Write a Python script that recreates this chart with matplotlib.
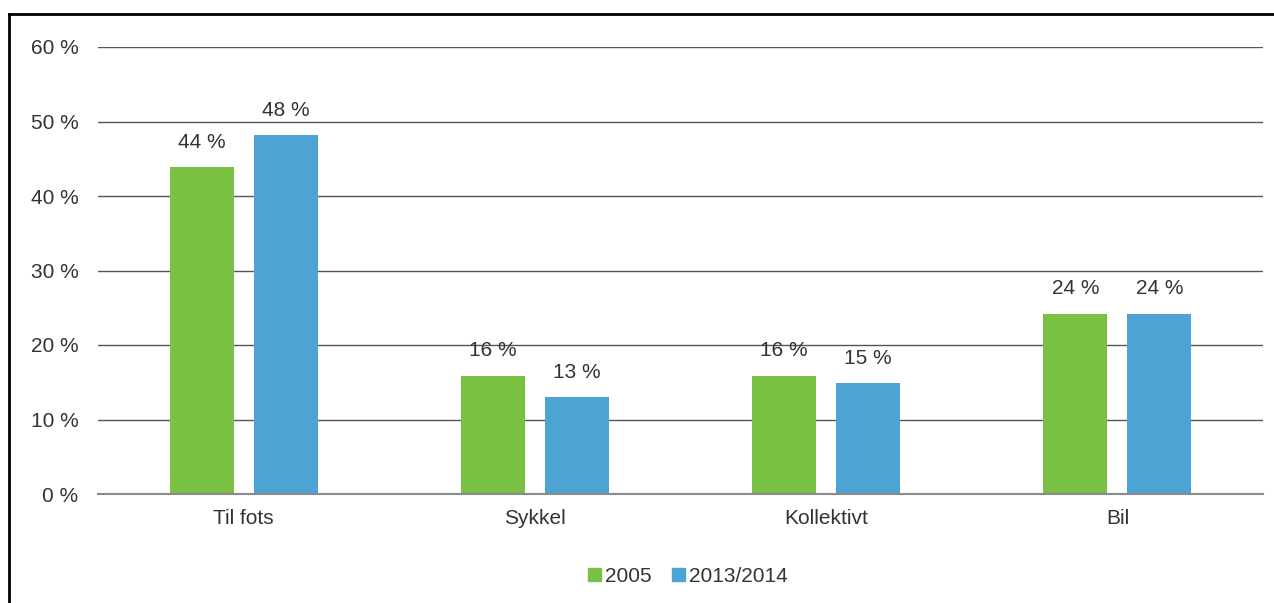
import numpy as np
import matplotlib.pyplot as plt
from matplotlib.lines import Line2D
from matplotlib.patches import Patch

# ---------------------------------------------------------------
# Data
# ---------------------------------------------------------------
categories = ['Til fots', 'Sykkel', 'Kollektivt', 'Bil']
series_names = ['2005', '2013/2014']
values_2005 = [43.9, 15.9, 15.9, 24.2]
values_2014 = [48.2, 13.0, 14.9, 24.2]
labels_2005 = ['44 %', '16 %', '16 %', '24 %']
labels_2014 = ['48 %', '13 %', '15 %', '24 %']
y_ticks = [0, 10, 20, 30, 40, 50, 60]

green = '#7AC143'
blue = '#4CA3D4'
text_col = '#333333'

plt.rcParams['font.family'] = ['Liberation Sans', 'DejaVu Sans']

fig = plt.figure(figsize=(12.74, 6.03), dpi=100)
ax = fig.add_axes([98 / 1274, 1 - 494 / 603, 1165 / 1274, 447 / 603])

x = np.arange(len(categories))
w = 0.22
off = 0.144
b1 = ax.bar(x - off, values_2005, w, color=green)
b2 = ax.bar(x + off, values_2014, w, color=blue)

# value labels above the bars
for bars, labs in ((b1, labels_2005), (b2, labels_2014)):
    for bar, lab in zip(bars, labs):
        ax.annotate(lab, (bar.get_x() + bar.get_width() / 2, bar.get_height()),
                    xytext=(0, 11), textcoords='offset points',
                    ha='center', va='bottom', fontsize=15, color=text_col)

ax.set_xlim(-0.5, len(categories) - 0.5)
ax.set_ylim(0, 60)
ax.set_yticks(y_ticks)
ax.set_yticklabels([f'{t} %' for t in y_ticks])
ax.set_xticks(x)
ax.set_xticklabels(categories)
ax.tick_params(axis='both', length=0, labelsize=15, labelcolor=text_col)
ax.tick_params(axis='y', pad=14)
ax.tick_params(axis='x', pad=11)

ax.yaxis.grid(True, color='#555555', linewidth=1.0)
ax.set_axisbelow(True)
ax.axhline(0, color='#8a8a8a', linewidth=1.5, clip_on=False, zorder=3)
for s in ax.spines.values():
    s.set_visible(False)

handles = [Patch(color=green), Patch(color=blue)]
fig.legend(handles, series_names, loc='center', bbox_to_anchor=(688 / 1274, 1 - 576 / 603),
           ncol=2, frameon=False, fontsize=15, handlelength=0.6, handleheight=0.6,
           handletextpad=0.2, columnspacing=1.0, labelcolor=text_col)

# outer frame (top and left edges visible)
fig.add_artist(Line2D([9 / 1274, 1.0], [1 - 14 / 603, 1 - 14 / 603], color='black', lw=2))
fig.add_artist(Line2D([9 / 1274, 9 / 1274], [0, 1 - 14 / 603], color='black', lw=2))

fig.savefig('out.png', dpi=100)
